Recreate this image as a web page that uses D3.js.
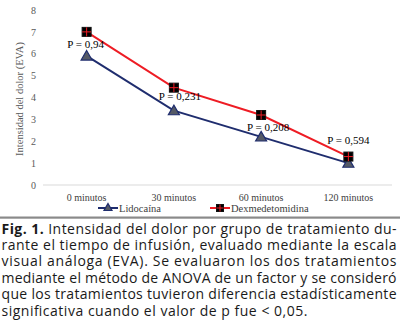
<!DOCTYPE html>
<html><head><meta charset="utf-8">
<script src="https://cdn.jsdelivr.net/npm/d3@7/dist/d3.min.js"></script>
<style>html,body{margin:0;padding:0;background:#fff;}svg{display:block;}</style>
</head><body>
<script>
const categories = ["0 minutos", "30 minutos", "60 minutos", "120 minutos"];
const lidocaina = [5.9, 3.4, 2.2, 1.0];
const dexmedetomidina = [7.0, 4.45, 3.2, 1.3];
const pLabels = ["P = 0,94", "P = 0,231", "P = 0,208", "P = 0,594"];
const yTicks = [0, 1, 2, 3, 4, 5, 6, 7, 8];
const seriesNames = ["Lidocaína", "Dexmedetomidina"];
const captionLines = [
  ["Fig. 1.", " Intensidad del dolor por grupo de tratamiento du-"],
  ["", "rante el tiempo de infusión, evaluado mediante la escala"],
  ["", "visual análoga (EVA). Se evaluaron los dos tratamientos"],
  ["", "mediante el método de ANOVA de un factor y se consideró"],
  ["", "que los tratamientos tuvieron diferencia estadísticamente"],
  ["", "significativa cuando el valor de p fue < 0,05."]
];

const W = 400, H = 329;
const svg = d3.select("body").append("svg").attr("width", W).attr("height", H);
const serif = "'Liberation Serif', 'Times New Roman', serif";

const x = d3.scaleBand().domain(categories).range([43, 392]).padding(0);
const y = d3.scaleLinear().domain([0, 8]).range([185, 10]);

svg.append("line").attr("x1", 43).attr("x2", 392)
  .attr("y1", y(0)).attr("y2", y(0)).attr("stroke", "#d9d9d9").attr("stroke-width", 1);

const yAxis = d3.axisLeft(y).tickValues(yTicks).tickSize(0).tickPadding(0);
const gy = svg.append("g").attr("transform", "translate(36,0)").call(yAxis);
gy.select(".domain").remove();
gy.selectAll("text").attr("font-family", serif).attr("font-size", 10).attr("fill", "#595959");

const xAxis = d3.axisBottom(x).tickSize(0).tickPadding(0);
const gx = svg.append("g").attr("transform", "translate(0,193.5)").call(xAxis);
gx.select(".domain").remove();
gx.selectAll("text").attr("font-family", serif).attr("font-size", 10).attr("fill", "#404040").attr("dy", "0.71em");

svg.append("text").attr("transform", "translate(23,99) rotate(-90)")
  .attr("text-anchor", "middle").attr("font-family", serif).attr("font-size", 10.5)
  .attr("fill", "#595959").text("Intensidad del dolor (EVA)");

const cx = d => x(d) + x.bandwidth() / 2;
const line = d3.line().x((d, i) => cx(categories[i])).y(d => y(d));

const lidoColor = "#1f2d6e", dexColor = "#ee1c24";

svg.append("path").datum(dexmedetomidina).attr("d", line)
  .attr("fill", "none").attr("stroke", dexColor).attr("stroke-width", 2);
svg.append("path").datum(lidocaina).attr("d", line)
  .attr("fill", "none").attr("stroke", lidoColor).attr("stroke-width", 2);

function triangle(g, px, py, s) {
  g.append("path").attr("d", `M${px},${py - s}L${px + s},${py + s * 0.75}L${px - s},${py + s * 0.75}Z`)
    .attr("fill", "#555a66").attr("stroke", lidoColor).attr("stroke-width", 1.2);
}
function square(g, px, py, s) {
  g.append("rect").attr("x", px - s).attr("y", py - s).attr("width", 2 * s).attr("height", 2 * s)
    .attr("fill", "#000").attr("stroke", "#111").attr("stroke-width", 1);
  g.append("line").attr("x1", px - s).attr("x2", px + s).attr("y1", py).attr("y2", py).attr("stroke", dexColor).attr("stroke-width", 1);
  g.append("line").attr("x1", px).attr("x2", px).attr("y1", py - s).attr("y2", py + s).attr("stroke", dexColor).attr("stroke-width", 1);
}
const mk = svg.append("g");
lidocaina.forEach((v, i) => triangle(mk, cx(categories[i]), y(v), 5.5));
dexmedetomidina.forEach((v, i) => square(mk, cx(categories[i]), y(v), 4.5));

const labelDx = [-1, 6, 7, 0];
const labelDy = [-7.5, -11, -5.5, -12.5];
const labelRef = [lidocaina, lidocaina, lidocaina, dexmedetomidina];
svg.append("g").selectAll("text").data(pLabels).join("text")
  .attr("x", (d, i) => cx(categories[i]) + labelDx[i])
  .attr("y", (d, i) => y(labelRef[i][i]) + labelDy[i])
  .attr("text-anchor", "middle").attr("font-family", serif).attr("font-size", 11)
  .attr("fill", "#000").text(d => d);

const leg = svg.append("g");
const legX = [98, 210];
seriesNames.forEach((n, i) => {
  const lx = legX[i], ly = 208;
  leg.append("line").attr("x1", lx).attr("x2", lx + 20).attr("y1", ly).attr("y2", ly)
    .attr("stroke", i === 0 ? lidoColor : dexColor).attr("stroke-width", 2);
  if (i === 0) triangle(leg, lx + 10, ly - 0.5, 4); else square(leg, lx + 10, ly, 3.5);
  leg.append("text").attr("x", lx + 21).attr("y", ly + 3.5).attr("font-family", serif)
    .attr("font-size", 10.5).attr("fill", "#404040").text(n);
});

svg.append("rect").attr("x", 0).attr("y", 216.5).attr("width", W).attr("height", 2.2).attr("fill", "#8a8a8a");

const capFont = "'Open Sans', 'Noto Sans', sans-serif";
const lineW = [395, 395, 395, 395, 395, 306];
captionLines.forEach((parts, i) => {
  const t = svg.append("text").attr("x", 1.5).attr("y", 233.5 + i * 16.4)
    .attr("font-family", capFont).attr("font-size", 14).attr("fill", "#1a1a1a")
    .attr("textLength", lineW[i]).attr("lengthAdjust", "spacing");
  if (parts[0]) t.append("tspan").attr("font-weight", "bold").text(parts[0]);
  t.append("tspan").text(parts[1]);
});
</script>
</body></html>
